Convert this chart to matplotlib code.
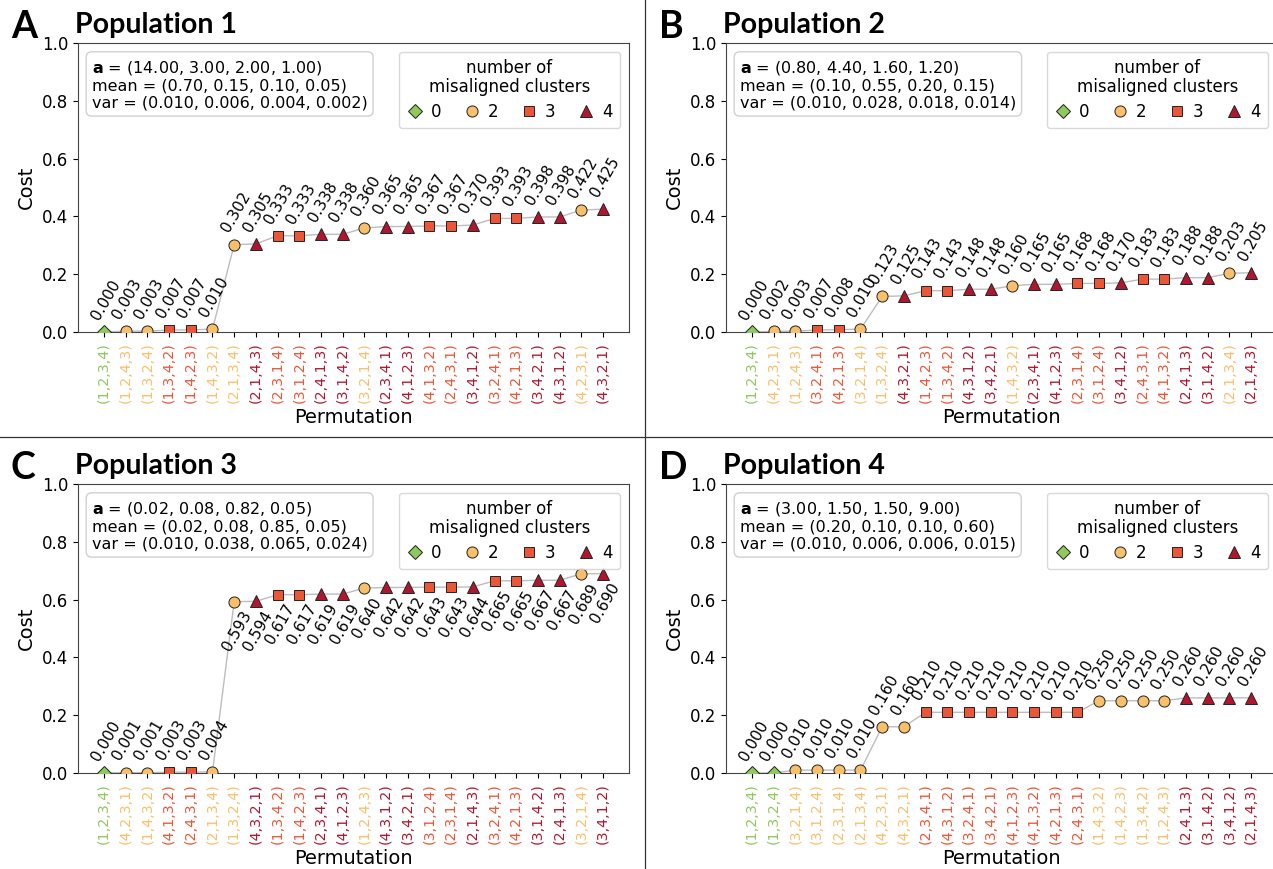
import matplotlib
matplotlib.use('Agg')
import matplotlib.pyplot as plt
from matplotlib.lines import Line2D

# ---- data -------------------------------------------------------------
perm_1 = ['(1,2,3,4)', '(1,2,4,3)', '(1,3,2,4)', '(1,3,4,2)', '(1,4,2,3)', '(1,4,3,2)',
          '(2,1,3,4)', '(2,1,4,3)', '(2,3,1,4)', '(3,1,2,4)', '(2,4,1,3)', '(3,1,4,2)',
          '(3,2,1,4)', '(2,3,4,1)', '(4,1,2,3)', '(4,1,3,2)', '(2,4,3,1)', '(3,4,1,2)',
          '(3,2,4,1)', '(4,2,1,3)', '(3,4,2,1)', '(4,3,1,2)', '(4,2,3,1)', '(4,3,2,1)']
cost_1 = [0.000, 0.003, 0.003, 0.007, 0.007, 0.010, 0.302, 0.305, 0.333, 0.333, 0.338, 0.338,
          0.360, 0.365, 0.365, 0.367, 0.367, 0.370, 0.393, 0.393, 0.398, 0.398, 0.422, 0.425]
mis_1 = [0, 2, 2, 3, 3, 2, 2, 4, 3, 3, 4, 4, 2, 4, 4, 3, 3, 4, 3, 3, 4, 4, 2, 4]

perm_2 = ['(1,2,3,4)', '(4,2,3,1)', '(1,2,4,3)', '(3,2,4,1)', '(4,2,1,3)', '(3,2,1,4)',
          '(1,3,2,4)', '(4,3,2,1)', '(1,4,2,3)', '(1,3,4,2)', '(4,3,1,2)', '(3,4,2,1)',
          '(1,4,3,2)', '(2,3,4,1)', '(4,1,2,3)', '(2,3,1,4)', '(3,1,2,4)', '(3,4,1,2)',
          '(2,4,3,1)', '(4,1,3,2)', '(2,4,1,3)', '(3,1,4,2)', '(2,1,3,4)', '(2,1,4,3)']
cost_2 = [0.000, 0.002, 0.003, 0.007, 0.008, 0.010, 0.123, 0.125, 0.143, 0.143, 0.148, 0.148,
          0.160, 0.165, 0.165, 0.168, 0.168, 0.170, 0.183, 0.183, 0.188, 0.188, 0.203, 0.205]
mis_2 = [0, 2, 2, 3, 3, 2, 2, 4, 3, 3, 4, 4, 2, 4, 4, 3, 3, 4, 3, 3, 4, 4, 2, 4]

perm_3 = ['(1,2,3,4)', '(4,2,3,1)', '(1,4,3,2)', '(4,1,3,2)', '(2,4,3,1)', '(2,1,3,4)',
          '(1,3,2,4)', '(4,3,2,1)', '(1,3,4,2)', '(1,4,2,3)', '(2,3,4,1)', '(4,1,2,3)',
          '(1,2,4,3)', '(4,3,1,2)', '(3,4,2,1)', '(3,1,2,4)', '(2,3,1,4)', '(2,1,4,3)',
          '(3,2,4,1)', '(4,2,1,3)', '(3,1,4,2)', '(2,4,1,3)', '(3,2,1,4)', '(3,4,1,2)']
cost_3 = [0.000, 0.001, 0.001, 0.003, 0.003, 0.004, 0.593, 0.594, 0.617, 0.617, 0.619, 0.619,
          0.640, 0.642, 0.642, 0.643, 0.643, 0.644, 0.665, 0.665, 0.667, 0.667, 0.689, 0.690]
mis_3 = [0, 2, 2, 3, 3, 2, 2, 4, 3, 3, 4, 4, 2, 4, 4, 3, 3, 4, 3, 3, 4, 4, 2, 4]

perm_4 = ['(1,2,3,4)', '(1,3,2,4)', '(3,2,1,4)', '(3,1,2,4)', '(2,3,1,4)', '(2,1,3,4)',
          '(4,2,3,1)', '(4,3,2,1)', '(2,3,4,1)', '(4,3,1,2)', '(3,2,4,1)', '(3,4,2,1)',
          '(4,1,2,3)', '(4,1,3,2)', '(4,2,1,3)', '(2,4,3,1)', '(1,4,3,2)', '(1,4,2,3)',
          '(1,3,4,2)', '(1,2,4,3)', '(2,4,1,3)', '(3,1,4,2)', '(3,4,1,2)', '(2,1,4,3)']
cost_4 = [0.000, 0.000, 0.010, 0.010, 0.010, 0.010, 0.160, 0.160, 0.210, 0.210, 0.210, 0.210,
          0.210, 0.210, 0.210, 0.210, 0.250, 0.250, 0.250, 0.250, 0.260, 0.260, 0.260, 0.260]
mis_4 = [0, 0, 2, 2, 2, 2, 2, 2, 3, 3, 3, 3, 3, 3, 3, 3, 2, 2, 2, 2, 4, 4, 4, 4]

info_1 = [r'$\mathbf{a}$ = (14.00, 3.00, 2.00, 1.00)',
          'mean = (0.70, 0.15, 0.10, 0.05)',
          'var = (0.010, 0.006, 0.004, 0.002)']
info_2 = [r'$\mathbf{a}$ = (0.80, 4.40, 1.60, 1.20)',
          'mean = (0.10, 0.55, 0.20, 0.15)',
          'var = (0.010, 0.028, 0.018, 0.014)']
info_3 = [r'$\mathbf{a}$ = (0.02, 0.08, 0.82, 0.05)',
          'mean = (0.02, 0.08, 0.85, 0.05)',
          'var = (0.010, 0.038, 0.065, 0.024)']
info_4 = [r'$\mathbf{a}$ = (3.00, 1.50, 1.50, 9.00)',
          'mean = (0.20, 0.10, 0.10, 0.60)',
          'var = (0.010, 0.006, 0.006, 0.015)']

# style per number of misaligned clusters
colors = {0: '#8fc85c', 2: '#f9c06b', 3: '#ec5638', 4: '#b0172e'}
markers = {0: 'D', 2: 'o', 3: 's', 4: '^'}
msizes = {0: 7, 2: 8, 3: 7.5, 4: 8}

W, H = 1273, 869


def draw_panel(ax, perms, costs, mis, info):
    x = list(range(len(costs)))
    ax.plot(x, costs, color='#bdbdbd', lw=1.0, zorder=1)
    for i, (c, m) in enumerate(zip(costs, mis)):
        ax.plot(i, c, marker=markers[m], ms=msizes[m], color=colors[m],
                mec='#222222', mew=0.7, ls='none', zorder=3)
        if c > 0.5:
            # high values would run into the legend -> put label under the point
            ax.annotate(f'{c:.3f}', (i, c), xytext=(5, -5), textcoords='offset points',
                        rotation=60, rotation_mode='anchor', ha='right', va='top',
                        fontsize=11, zorder=4)
        else:
            ax.annotate(f'{c:.3f}', (i, c), xytext=(-2, 7), textcoords='offset points',
                        rotation=60, rotation_mode='anchor', ha='left', va='bottom',
                        fontsize=11, zorder=4)
    ax.set_xlim(-1.2, 24.2)
    ax.set_ylim(0, 1.0)
    ax.set_yticks([0.0, 0.2, 0.4, 0.6, 0.8, 1.0])
    ax.set_xticks(x)
    ax.set_xticklabels(perms, rotation=90, fontsize=10.3)
    for lab, m in zip(ax.get_xticklabels(), mis):
        lab.set_color(colors[m])
    ax.tick_params(axis='y', labelsize=12)
    ax.set_ylabel('Cost', fontsize=14)
    ax.set_xlabel('Permutation', fontsize=14, labelpad=4)
    for s in ax.spines.values():
        s.set_color('#444444')

    ax.text(0.025, 0.945, '\n'.join(info), transform=ax.transAxes, fontsize=11.5,
            va='top', ha='left', linespacing=1.15,
            bbox=dict(boxstyle='round,pad=0.35', fc='white', ec='#d0d0d0'))

    handles = [Line2D([], [], marker=markers[k], ms=msizes[k], color=colors[k],
                      mec='#222222', mew=0.7, ls='none') for k in [0, 2, 3, 4]]
    leg = ax.legend(handles, ['0', '2', '3', '4'], ncol=4, loc='upper right',
                    title='number of\nmisaligned clusters', fontsize=12,
                    title_fontsize=12, handletextpad=0.45, columnspacing=1.35,
                    handlelength=1.0, borderpad=0.45, labelspacing=0.4,
                    borderaxespad=0, bbox_to_anchor=(0.984, 0.969))
    leg.get_title().set_multialignment('center')
    leg.get_title().set_linespacing(1.05)
    leg._legend_box.align = 'center'
    leg.get_frame().set_edgecolor('#d0d0d0')
    leg.set_zorder(6)


fig = plt.figure(figsize=(W / 100, H / 100), dpi=100)

panels = [
    ('A', 'Population 1', 78, 43, perm_1, cost_1, mis_1, info_1),
    ('B', 'Population 2', 726, 43, perm_2, cost_2, mis_2, info_2),
    ('C', 'Population 3', 78, 484, perm_3, cost_3, mis_3, info_3),
    ('D', 'Population 4', 726, 484, perm_4, cost_4, mis_4, info_4),
]
for letter, title, left, top, perms, costs, mis, info in panels:
    ax = fig.add_axes([left / W, 1 - (top + 289) / H, 551 / W, 289 / H])
    draw_panel(ax, perms, costs, mis, info)
    fig.text((left - 67) / W, 1 - (top - 5) / H, letter, fontsize=27,
             fontweight='bold', family='Lato', ha='left', va='baseline')
    fig.text((left - 3) / W, 1 - (top - 10) / H, title, fontsize=20.5,
             fontweight='bold', family='Lato', ha='left', va='baseline')

# panel dividers
fig.add_artist(Line2D([645 / W, 645 / W], [0, 1], transform=fig.transFigure,
                      color='#333333', lw=0.9))
fig.add_artist(Line2D([0, 1], [1 - 437 / H, 1 - 437 / H], transform=fig.transFigure,
                      color='#333333', lw=0.9))

fig.savefig('out.png', dpi=100)
